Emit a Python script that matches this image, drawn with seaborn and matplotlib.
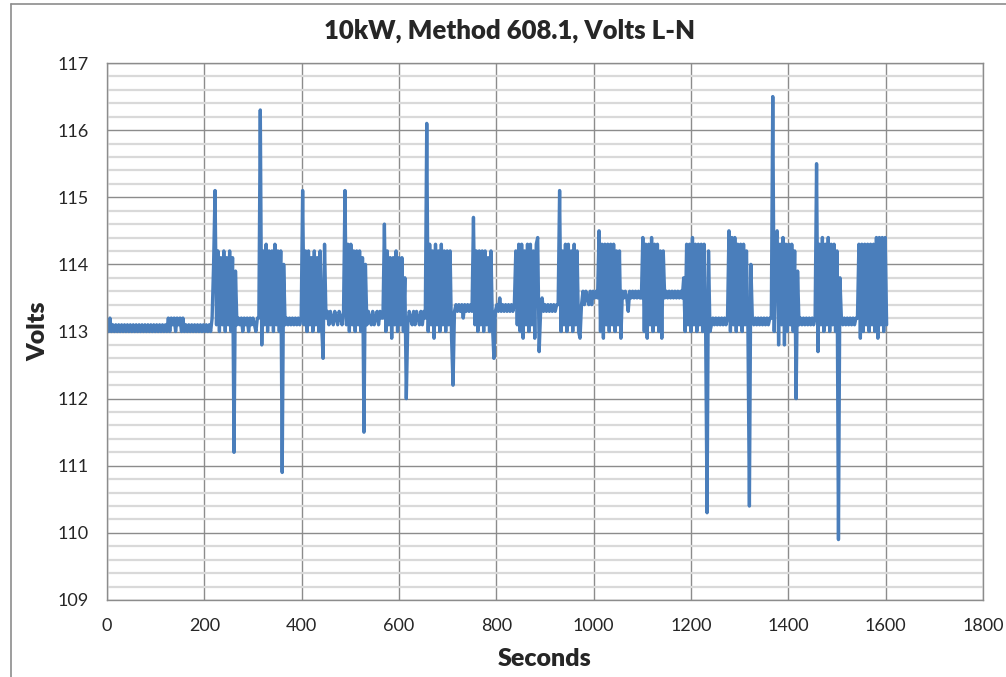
import pandas as pd
import matplotlib.pyplot as plt
from matplotlib.ticker import MultipleLocator
from matplotlib.lines import Line2D
import seaborn as sns

# trace every 3 s
STEP = 3

# steady stretches between load steps
quiet_start = [0, 270, 366, 450, 534, 618, 714, 798, 891, 975, 1062, 1146, 1242, 1326, 1422, 1509]
quiet_volts = [
    [113.1, 113.0, 113.2, 113.0, 113.1, 113.0, 113.1, 113.0, 113.1, 113.0,
     113.1, 113.0, 113.1, 113.0, 113.1, 113.0, 113.1, 113.0, 113.1, 113.0,
     113.1, 113.0, 113.1, 113.0, 113.1, 113.0, 113.1, 113.0, 113.1, 113.0,
     113.1, 113.0, 113.1, 113.0, 113.1, 113.0, 113.1, 113.0, 113.1, 113.0,
     113.1, 113.0, 113.2, 113.0, 113.2, 113.1, 113.2, 113.0, 113.2, 113.1,
     113.2, 113.0, 113.2, 113.0, 113.1, 113.0, 113.1, 113.0, 113.1, 113.0,
     113.1, 113.0, 113.1, 113.0, 113.1, 113.0, 113.1, 113.0, 113.1, 113.0,
     113.1, 113.0],
    [113.2, 113.1, 113.2, 113.0, 113.2, 113.1, 113.2, 113.0, 113.2, 113.1, 113.2, 113.1, 113.0, 113.2],
    [113.1, 113.2, 113.1, 113.2, 113.1, 113.2, 113.1, 113.2, 113.1, 113.2, 113.1, 113.2],
    [113.2, 113.3, 113.1, 113.3, 113.2, 113.1, 113.3, 113.2, 113.1, 113.3, 113.2, 113.1],
    [113.1, 113.3, 113.2, 113.1, 113.3, 113.1, 113.2, 113.3, 113.1, 113.3, 113.2],
    [113.1, 113.3, 113.2, 113.1, 113.3, 113.1, 113.3, 113.2, 113.1, 113.3, 113.1, 113.3],
    [113.3, 113.4, 113.3, 113.4, 113.3, 113.4, 113.2, 113.4, 113.3, 113.4, 113.3, 113.4],
    [113.3, 113.4, 113.3, 113.5, 113.3, 113.4, 113.3, 113.4, 113.3, 113.4, 113.3, 113.4, 113.3, 113.4],
    [113.3, 113.5, 113.3, 113.4, 113.3, 113.4, 113.3, 113.4, 113.3, 113.4, 113.3, 113.4],
    [113.4, 113.6, 113.4, 113.6, 113.5, 113.4, 113.6, 113.4, 113.6, 113.5, 113.6],
    [113.5, 113.6, 113.5, 113.3, 113.6, 113.5, 113.6, 113.5, 113.6, 113.5, 113.6, 113.5],
    [113.5, 113.6, 113.5, 113.6, 113.5, 113.6, 113.5, 113.6, 113.5, 113.6, 113.5, 113.6, 113.5],
    [113.1, 113.2, 113.1, 113.2, 113.1, 113.2, 113.1, 113.2, 113.1, 113.2, 113.1],
    [113.2, 113.1, 113.2, 113.1, 113.2, 113.1, 113.2, 113.1, 113.2, 113.1, 113.2, 113.1, 113.2],
    [113.1, 113.2, 113.1, 113.2, 113.1, 113.2, 113.1, 113.2, 113.1, 113.2, 113.1, 113.2],
    [113.2, 113.1, 113.2, 113.1, 113.2, 113.1, 113.2, 113.1, 113.2, 113.1, 113.2],
]

# load steps (fluctuating bursts)
burst_start = [216, 312, 402, 486, 567, 654, 750, 840, 927, 1008, 1098, 1185, 1275, 1365, 1458, 1542]
burst_volts = [
    [113.2, 114.0, 115.1, 113.1, 114.2, 113.0, 114.1, 113.1, 114.2, 113.0, 114.1, 113.1, 114.2, 113.0,
     114.1, 111.2, 113.9, 113.1],
    [113.2, 116.3, 112.8, 114.2, 113.1, 114.3, 113.0, 114.2, 113.1, 114.2, 113.0, 114.3, 113.1, 114.2,
     113.0, 114.2, 110.9, 114.0],
    [115.1, 113.1, 114.2, 113.0, 114.2, 113.1, 114.1, 113.0, 114.2, 113.1, 114.1, 113.0, 114.2, 113.1,
     112.6, 114.3],
    [113.3, 115.1, 113.1, 114.3, 113.0, 114.3, 113.1, 114.2, 113.0, 114.2, 113.1, 114.2, 113.0, 114.1,
     111.5, 114.0],
    [113.2, 114.6, 113.0, 114.2, 113.1, 114.1, 112.9, 114.1, 113.1, 114.2, 113.0, 114.1, 113.1, 114.1,
     113.0, 113.8, 112.0],
    [113.2, 116.1, 113.0, 114.3, 113.1, 114.2, 112.9, 114.3, 113.1, 114.2, 113.0, 114.3, 113.1, 114.2,
     113.0, 114.2, 113.1, 114.2, 112.9, 112.2],
    [113.3, 114.7, 113.1, 114.2, 113.0, 114.2, 113.1, 114.2, 113.0, 114.2, 113.1, 114.1, 113.0, 114.2,
     113.1, 112.6],
    [114.2, 113.1, 114.3, 113.0, 114.3, 112.9, 114.2, 113.1, 114.3, 113.0, 114.3, 113.1, 114.2, 112.9,
     114.3, 114.4, 112.7],
    [113.4, 115.1, 113.0, 114.2, 113.1, 114.3, 113.0, 114.3, 113.1, 114.2, 113.0, 114.3, 113.1, 114.2,
     113.0, 112.9],
    [113.5, 114.5, 113.0, 114.3, 112.9, 114.3, 113.1, 114.3, 113.0, 114.3, 113.1, 114.3, 113.0, 114.2,
     113.1, 114.2, 112.9, 113.6],
    [113.5, 114.4, 113.0, 114.3, 112.9, 114.3, 113.1, 114.4, 113.0, 114.3, 113.1, 114.3, 113.0, 114.2,
     112.9, 114.2],
    [113.8, 113.0, 114.3, 113.1, 114.3, 113.0, 114.4, 113.1, 114.3, 113.0, 114.3, 113.1, 114.3, 113.0,
     114.3, 113.1, 110.3, 114.2, 113.0],
    [113.2, 114.5, 113.0, 114.4, 113.1, 114.4, 113.0, 114.3, 113.1, 114.3, 113.0, 114.3, 113.1, 114.2,
     113.0, 110.4, 114.0],
    [113.2, 116.5, 113.0, 114.3, 114.5, 112.8, 114.3, 113.1, 114.4, 112.8, 114.3, 113.0, 114.3, 113.1,
     114.3, 113.0, 114.2, 112.0, 113.9],
    [115.5, 112.7, 114.3, 113.1, 114.4, 113.0, 114.3, 113.1, 114.4, 113.0, 114.3, 113.1, 114.3, 113.0,
     114.2, 109.9, 113.8],
    [113.2, 114.3, 112.9, 114.3, 113.0, 114.3, 113.1, 114.3, 113.0, 114.3, 113.1, 114.3, 113.0, 114.4,
     112.9, 114.4, 113.1, 114.4, 113.0, 114.4, 113.1],
]

rows = []
for starts, blocks in ((quiet_start, quiet_volts), (burst_start, burst_volts)):
    for t0, vals in zip(starts, blocks):
        for i, v in enumerate(vals):
            rows.append((t0 + STEP * i, v))
df = pd.DataFrame(rows, columns=['seconds', 'volts']).sort_values('seconds')

sns.set_style('white')
plt.rcParams['font.family'] = ['Lato', 'DejaVu Sans']
plt.rcParams['path.simplify'] = False  # keep every zigzag so the bursts fill in

fig = plt.figure(figsize=(10.06, 6.77), dpi=100)
ax = fig.add_axes([107 / 1006, 77 / 677, 876 / 1006, 537 / 677])

sns.lineplot(data=df, x='seconds', y='volts', estimator=None, sort=False,
             color='#4A7EBB', linewidth=2.4, ax=ax)

ax.set_xlim(0, 1800)
ax.set_ylim(109, 117)
ax.xaxis.set_major_locator(MultipleLocator(200))
ax.yaxis.set_major_locator(MultipleLocator(1))
ax.yaxis.set_minor_locator(MultipleLocator(0.2))
ax.grid(which='major', color='#8C8C8C', linewidth=1.0)
ax.grid(which='minor', axis='y', color='#D9D9D9', linewidth=1.6)
ax.set_axisbelow(True)
for s in ax.spines.values():
    s.set_color('#8C8C8C')
    s.set_linewidth(1.0)
ax.tick_params(which='major', direction='out', length=5, width=1.0, color='#8C8C8C',
               labelsize=13, pad=8)
ax.tick_params(which='minor', length=0)

fig.text(510 / 1006, 1 - 31 / 677, '10kW, Method 608.1, Volts L-N', fontsize=18.5,
         fontweight='heavy', ha='center', va='center')
ax.set_xlabel('Seconds', fontsize=18, fontweight='heavy', labelpad=10)
ax.set_ylabel('Volts', fontsize=18, fontweight='heavy', labelpad=6)

# chart-area border
fig.add_artist(Line2D([10.5 / 1006, 10.5 / 1006], [0, 1 - 3.5 / 677],
                      transform=fig.transFigure, color='#8C8C8C', lw=1.2))
fig.add_artist(Line2D([10.5 / 1006, 1], [1 - 3.5 / 677, 1 - 3.5 / 677],
                      transform=fig.transFigure, color='#8C8C8C', lw=1.2))

plt.savefig('out.png', dpi=100)
